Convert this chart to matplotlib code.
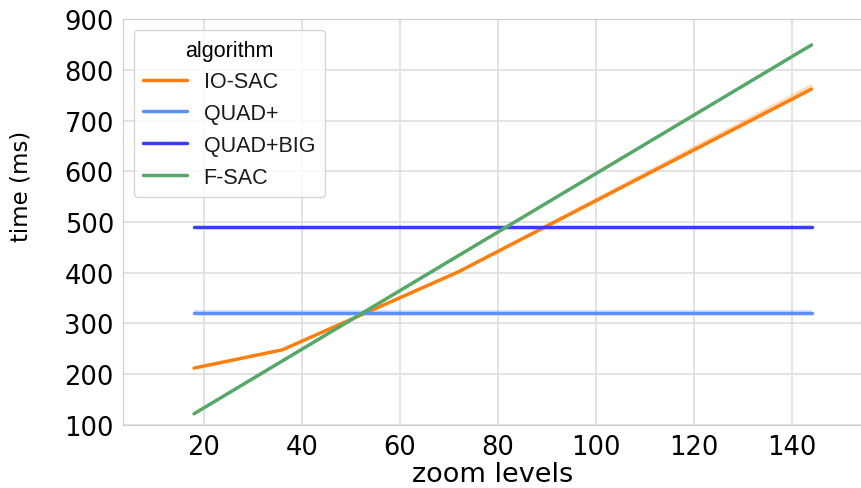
import matplotlib
matplotlib.use("Agg")
import matplotlib.pyplot as plt
import seaborn as sns

# zoom levels on the x axis
zoom_levels = [18, 36, 72, 144]

algorithms = ["IO-SAC", "QUAD+", "QUAD+BIG", "F-SAC"]

# mean time (ms) per zoom level
io_sac = [212, 248, 402, 762]
quad_plus = [321, 321, 321, 321]
quad_plus_big = [491, 491, 491, 491]
f_sac = [122, 226, 434, 849]

# confidence band (low, high)
io_sac_lo = [211, 247, 401, 760]
io_sac_hi = [215, 250, 406, 774]
quad_plus_lo = [320, 320, 320, 320]
quad_plus_hi = [327, 327, 327, 327]
quad_plus_big_lo = [490, 490, 490, 490]
quad_plus_big_hi = [492, 492, 492, 492]
f_sac_lo = [121, 225, 433, 848]
f_sac_hi = [123, 227, 435, 850]

colors = ["#ff7f0e", "#5b8ff9", "#3b3bf6", "#55a868"]

sns.set_style("whitegrid")
plt.rcParams["font.family"] = ["DejaVu Sans"]
plt.rcParams["text.color"] = "black"
plt.rcParams["axes.labelcolor"] = "black"
plt.rcParams["xtick.color"] = "black"
plt.rcParams["ytick.color"] = "black"

fig = plt.figure(figsize=(8.62, 4.89), dpi=100)
ax = fig.add_axes([0.1427, 0.129, 0.8573, 0.83])

series = [(io_sac, io_sac_lo, io_sac_hi),
          (quad_plus, quad_plus_lo, quad_plus_hi),
          (quad_plus_big, quad_plus_big_lo, quad_plus_big_hi),
          (f_sac, f_sac_lo, f_sac_hi)]

for name, (mean, lo, hi), c in zip(algorithms, series, colors):
    ax.fill_between(zoom_levels, lo, hi, color=c, alpha=0.25, linewidth=0)
    ax.plot(zoom_levels, mean, color=c, linewidth=2.5, label=name)

ax.set_xlim(3.5, 154.3)
ax.set_ylim(100, 900)
ax.set_xticks([20, 40, 60, 80, 100, 120, 140])
ax.set_yticks(range(100, 1000, 100))
ax.tick_params(labelsize=18.5, pad=3)
ax.set_xlabel("zoom levels", fontsize=19.5, labelpad=1)
ax.set_ylabel("time (ms)", fontsize=16.5)
ax.yaxis.set_label_coords(-0.122, 0.589)

for s in ax.spines.values():
    s.set_color("#cccccc")
ax.grid(color="#dedede", linewidth=1.2)

leg = ax.legend(title="algorithm", loc="upper left",
                prop={"family": "Liberation Sans", "size": 15.5},
                frameon=True, borderpad=0.45, labelspacing=0.5)
leg.get_title().set_family("Liberation Sans")
leg.get_title().set_fontsize(15.5)
for t in leg.get_texts():
    t.set_color("#1a1a1a")

fig.savefig("out.png", dpi=100)
